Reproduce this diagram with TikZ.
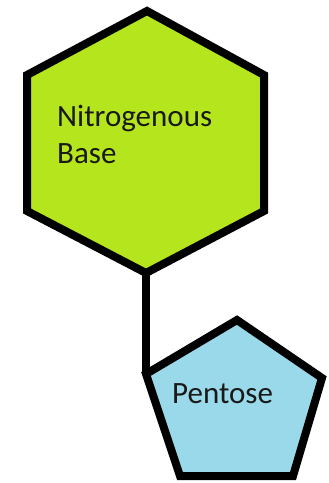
\documentclass[tikz,border=0pt]{standalone}
\usepackage{fontspec}
\setmainfont{Carlito}
\definecolor{basegreen}{HTML}{B5E61D}
\definecolor{sugarblue}{HTML}{99D9EA}
\begin{document}
\begin{tikzpicture}[x=1pt,y=-1pt,
  shapeline/.style={draw=black,line width=8pt,line join=miter},
  link/.style={draw=black,line width=7.5pt},
  label/.style={font=\fontsize{31}{37}\selectfont,inner sep=0pt,align=left,text=black!90}]
\useasboundingbox (0,0) rectangle (329,483);
% hexagon vertices
\coordinate (ht) at (147,11);
\coordinate (hul) at (27,75);
\coordinate (hll) at (27,211);
\coordinate (hb) at (146,273);
\coordinate (hlr) at (264,211);
\coordinate (hur) at (264,75);
% pentagon vertices
\coordinate (pt) at (237,320);
\coordinate (pl) at (146,374);
\coordinate (pbl) at (180,476);
\coordinate (pbr) at (293,476);
\coordinate (pr) at (322,378);
\draw[link] (hb) -- (pl);
\filldraw[shapeline,fill=basegreen] (ht) -- (hul) -- (hll) -- (hb) -- (hlr) -- (hur) -- cycle;
\filldraw[shapeline,fill=sugarblue] (pt) -- (pl) -- (pbl) -- (pbr) -- (pr) -- cycle;
\node[label,anchor=base west] (nb) at (57,163) {Nitrogenous\\Base};
\node[label,anchor=base west] (pe) at (172,403) {Pentose};
\end{tikzpicture}
\end{document}
